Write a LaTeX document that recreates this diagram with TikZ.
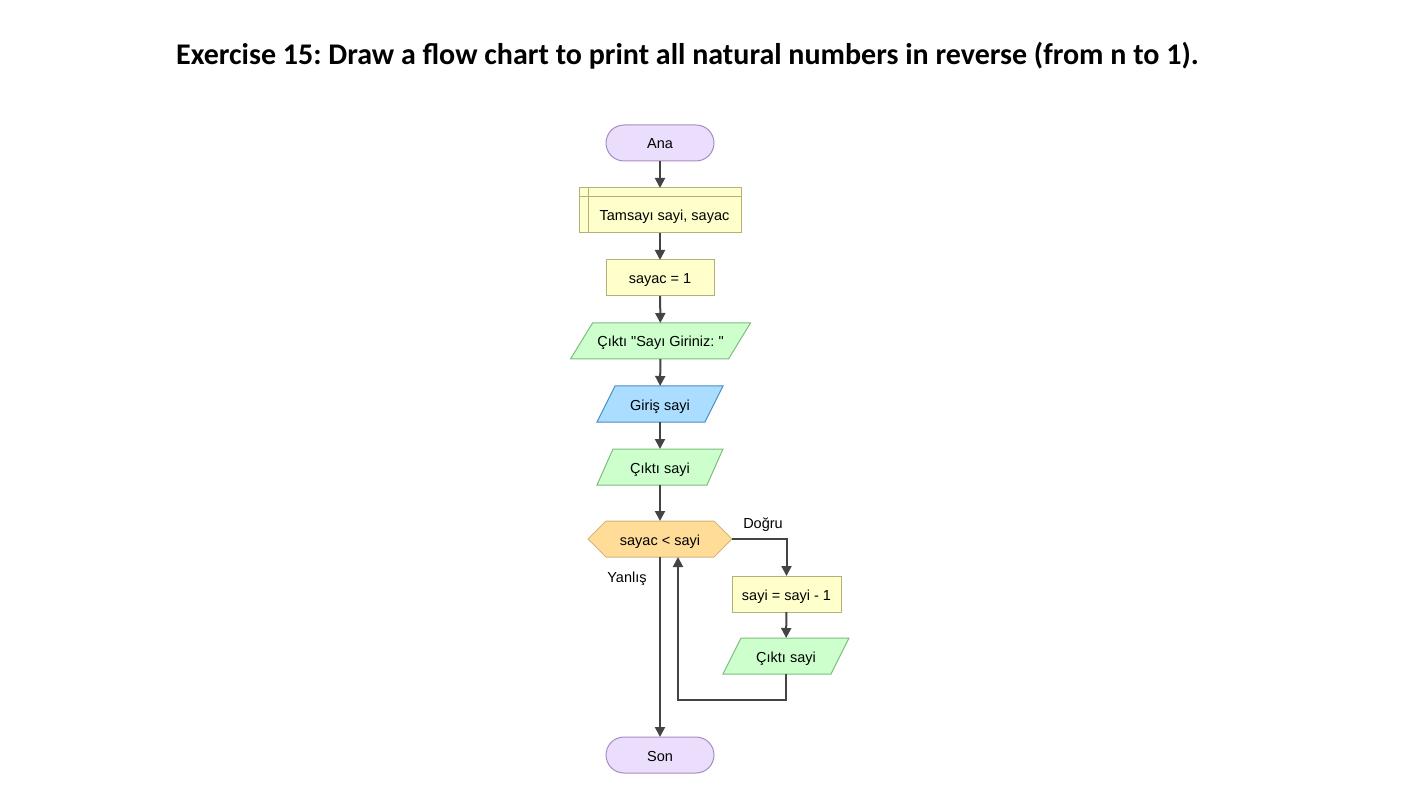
\documentclass[tikz,border=0pt]{standalone}
\usepackage{fontspec}
\setmainfont{Liberation Sans}[Ligatures=TeXOff]
\newfontfamily\titlefont{Carlito}
\usetikzlibrary{arrows.meta,backgrounds}
\frenchspacing
\definecolor{termfill}{HTML}{EBDEFC}
\definecolor{termdraw}{HTML}{A68CC2}
\definecolor{procfill}{HTML}{FFFFCC}
\definecolor{procdraw}{HTML}{B4B07A}
\definecolor{outfill}{HTML}{CCFFCC}
\definecolor{outdraw}{HTML}{7CBE7C}
\definecolor{infill}{HTML}{AADDFF}
\definecolor{indraw}{HTML}{4A8EC2}
\definecolor{decfill}{HTML}{FFDD99}
\definecolor{decdraw}{HTML}{D4B37A}
\definecolor{arrowc}{HTML}{444444}
\newcommand\mypara[3]{\draw[#3] ([xshift=#2]#1.north west) -- ([xshift=#2]#1.north east) -- ([xshift=-#2]#1.south east) -- ([xshift=-#2]#1.south west) -- cycle;}
\begin{document}
\begin{tikzpicture}[x=1pt,y=-1pt,
  base/.style={inner sep=0pt, outer sep=0pt, font=\fontsize{14.5}{16}\selectfont, text height=12pt, text depth=0pt, minimum height=36pt, line width=1pt},
  term/.style={base, draw=termdraw, fill=termfill, rounded corners=18pt, minimum width=108pt},
  proc/.style={base, draw=procdraw, fill=procfill, minimum width=108pt},
  txt/.style={base, minimum height=0pt},
  outsh/.style={draw=outdraw, fill=outfill, line width=1pt},
  insh/.style={draw=indraw, fill=infill, line width=1pt},
  decsh/.style={draw=decdraw, fill=decfill, line width=1pt},
  flow/.style={draw=arrowc, line width=2pt, -{Triangle[width=10pt,length=10pt]}}
]
\useasboundingbox (0,0) rectangle (1401,794);

\node[font=\titlefont\bfseries\fontsize{30}{34}\selectfont] (title) at (687.5,55.5) {Exercise 15: Draw a flow chart to print all natural numbers in reverse (from n to 1).};

\node[term] (ana) at (660,143) {Ana};
\node[proc, minimum width=162pt, minimum height=45pt] (tam) at (660,210.5) {};
\draw[procdraw, line width=1pt] ([xshift=9pt]tam.north west) -- ([xshift=9pt]tam.south west);
\draw[procdraw, line width=1pt] ([yshift=-9pt]tam.north west) -- ([yshift=-9pt]tam.north east);
\node[txt] (tamtxt) at (664.5,215) {Tamsayı sayi, sayac};
\node[proc] (init) at (660,278) {sayac = 1};
\node[base, minimum width=158pt] (out1) at (660.5,341) {Çıktı "Sayı Giriniz: "};
\node[base, minimum width=108pt] (inp) at (660,404) {Giriş sayi};
\node[base, minimum width=110pt] (out2) at (660,467) {Çıktı sayi};
\node[base, minimum width=144pt] (dec) at (660,539) {sayac < sayi};
\node[proc, minimum width=109pt] (sub) at (786.5,594) {sayi = sayi - 1};
\node[base, minimum width=108pt] (out3) at (786,656) {Çıktı sayi};
\node[term] (son) at (660,755) {Son};
\node[txt] (yes) at (763,522) {Doğru};
\node[txt] (no) at (627,576) {Yanlış};

\begin{scope}[on background layer]
\mypara{out1}{11pt}{outsh}
\mypara{inp}{9pt}{insh}
\mypara{out2}{8pt}{outsh}
\mypara{out3}{9pt}{outsh}
\draw[decsh] (dec.west) -- ([xshift=18pt]dec.north west) -- ([xshift=-18pt]dec.north east) -- (dec.east) -- ([xshift=-18pt]dec.south east) -- ([xshift=18pt]dec.south west) -- cycle;
\end{scope}

\coordinate (loopc) at (678,700);
\draw[flow] (ana) -- (tam);
\draw[flow] (tam) -- (init);
\draw[flow] (init) -- (out1);
\draw[flow] (out1) -- (inp);
\draw[flow] (inp) -- (out2);
\draw[flow] (out2) -- (dec);
\draw[flow] (dec.east) -| (sub.north);
\draw[flow] (sub) -- (out3);
\draw[flow] (out3.south) |- (loopc) -- (loopc |- dec.south);
\draw[flow] (dec.south) -- (son.north);
\end{tikzpicture}
\end{document}
